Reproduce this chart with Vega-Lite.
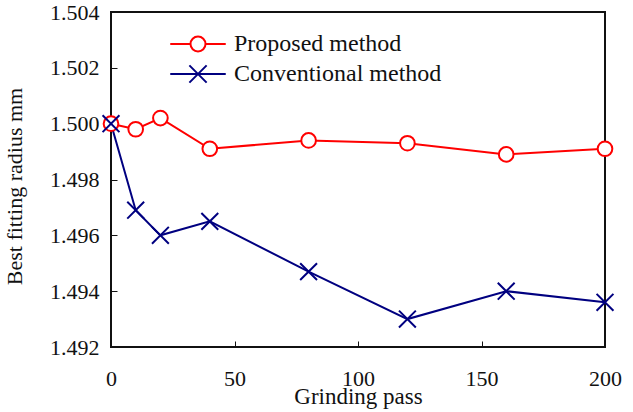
{
  "$schema": "https://vega.github.io/schema/vega-lite/v6.json",
  "width": 494,
  "height": 335,
  "autosize": {"type": "none"},
  "padding": {"left": 111, "top": 12, "right": 28, "bottom": 65},
  "background": "white",
  "config": {
    "font": "Liberation Serif",
    "view": {"stroke": "#111", "strokeWidth": 2},
    "axis": {
      "grid": false,
      "domain": false,
      "tickColor": "#111",
      "tickWidth": 1,
      "tickSize": -6,
      "labelColor": "#111",
      "titleColor": "#111",
      "labelFont": "Liberation Serif",
      "titleFont": "Liberation Serif",
      "labelFontSize": 22,
      "titleFontSize": 23,
      "titleFontWeight": "normal"
    },
    "legend": {
      "labelFont": "Liberation Serif",
      "labelFontSize": 24
    }
  },
  "data": {
    "values": [
      {"method": "Proposed method", "pass": 0, "radius": 1.5000},
      {"method": "Proposed method", "pass": 10, "radius": 1.4998},
      {"method": "Proposed method", "pass": 20, "radius": 1.5002},
      {"method": "Proposed method", "pass": 40, "radius": 1.4991},
      {"method": "Proposed method", "pass": 80, "radius": 1.4994},
      {"method": "Proposed method", "pass": 120, "radius": 1.4993},
      {"method": "Proposed method", "pass": 160, "radius": 1.4989},
      {"method": "Proposed method", "pass": 200, "radius": 1.4991},
      {"method": "Conventional method", "pass": 0, "radius": 1.5000},
      {"method": "Conventional method", "pass": 10, "radius": 1.4969},
      {"method": "Conventional method", "pass": 20, "radius": 1.4960},
      {"method": "Conventional method", "pass": 40, "radius": 1.4965},
      {"method": "Conventional method", "pass": 80, "radius": 1.4947},
      {"method": "Conventional method", "pass": 120, "radius": 1.4930},
      {"method": "Conventional method", "pass": 160, "radius": 1.4940},
      {"method": "Conventional method", "pass": 200, "radius": 1.4936}
    ]
  },
  "encoding": {
    "x": {
      "field": "pass", "type": "quantitative",
      "scale": {"domain": [0, 200], "nice": false},
      "axis": {"values": [0, 50, 100, 150, 200], "title": "Grinding pass", "labelPadding": 27, "titlePadding": -4, "labelFlush": false}
    },
    "y": {
      "field": "radius", "type": "quantitative",
      "scale": {"domain": [1.492, 1.504], "nice": false, "zero": false},
      "axis": {"values": [1.492, 1.494, 1.496, 1.498, 1.5, 1.502, 1.504], "format": ".3f", "title": "Best fitting radius mm", "titleFontSize": 22, "titleY": 174, "labelPadding": 18, "titlePadding": 23, "labelFlush": false}
    },
    "color": {
      "field": "method", "type": "nominal",
      "scale": {"domain": ["Proposed method", "Conventional method"], "range": ["#ff0000", "#000080"]},
      "legend": {
        "title": null,
        "orient": "none",
        "legendX": 75,
        "legendY": 20,
        "padding": 0,
        "labelFont": "Liberation Serif",
        "labelFontSize": 24,
        "labelColor": "#111",
        "labelLimit": 400,
        "labelOffset": 24,
        "rowPadding": 5,
        "symbolSize": 225,
        "symbolStrokeWidth": 2,
        "encode": {
          "symbols": {
            "update": {
              "shape": {"signal": "datum.value === 'Proposed method' ? 'M-3.7,0L-1,0M1,0L3.7,0M-1,0A1,1 0 1,1 1,0A1,1 0 1,1 -1,0' : 'M-3.7,0L3.7,0M-1.15,-1.15L1.15,1.15M-1.15,1.15L1.15,-1.15'"},
              "stroke": {"signal": "datum.value === 'Proposed method' ? '#ff0000' : '#000080'"},
              "fill": {"value": "white"},
              "fillOpacity": {"value": 1},
              "strokeWidth": {"value": 2},
              "size": {"value": 225},
              "opacity": {"value": 1}
            }
          }
        }
      }
    }
  },
  "layer": [
    {
      "mark": {"type": "line", "strokeWidth": 2}
    },
    {
      "transform": [{"filter": "datum.method === 'Proposed method'"}],
      "mark": {"type": "point", "shape": "circle", "filled": false, "fill": "white", "fillOpacity": 1, "opacity": 1, "strokeWidth": 2, "size": 215}
    },
    {
      "transform": [{"filter": "datum.method === 'Conventional method'"}],
      "mark": {"type": "point", "shape": "M-1.15,-1.15L1.15,1.15M-1.15,1.15L1.15,-1.15", "filled": false, "opacity": 1, "strokeWidth": 2, "size": 215}
    }
  ]
}
